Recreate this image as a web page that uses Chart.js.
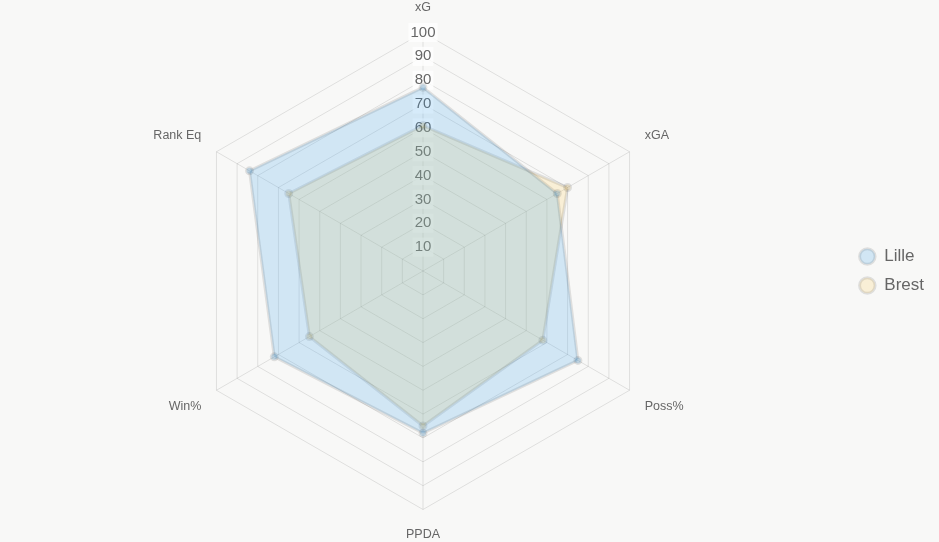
<!DOCTYPE html>
<html>
<head>
<meta charset="utf-8">
<script src="https://cdn.jsdelivr.net/npm/chart.js@4"></script>
<style>
  html, body { margin: 0; padding: 0; background: #f8f8f7; }
  #wrap { width: 939px; height: 542px; position: relative; }
</style>
</head>
<body>
<div id="wrap"><canvas id="radarChart"></canvas></div>
<script>
// radar comparison - Lille vs Brest
const labels = ['xG', 'xGA', 'Poss%', 'PPDA', 'Win%', 'Rank Eq'];
const lilleValues = [77, 65, 75, 68, 72, 84];
const brestValues = [61, 70, 58, 65, 55, 65];
const tickMax = 100;
const tickStep = 10;

Chart.defaults.font.family = '"Liberation Sans", Arial, Helvetica, sans-serif';
Chart.defaults.color = '#666';

const ctx = document.getElementById('radarChart').getContext('2d');
new Chart(ctx, {
  type: 'radar',
  data: {
    labels: labels,
    datasets: [
      {
        label: 'Lille',
        data: lilleValues,
        backgroundColor: 'rgba(54, 162, 235, 0.2)',
        borderColor: 'rgba(0, 0, 0, 0.1)',
        pointBorderColor: 'rgba(0, 0, 0, 0.1)',
        borderWidth: 3
      },
      {
        label: 'Brest',
        data: brestValues,
        backgroundColor: 'rgba(255, 206, 86, 0.2)',
        borderColor: 'rgba(0, 0, 0, 0.1)',
        pointBorderColor: 'rgba(0, 0, 0, 0.1)',
        borderWidth: 3
      }
    ]
  },
  options: {
    responsive: true,
    maintainAspectRatio: false,
    animation: false,
    layout: {
      padding: { right: 5 }
    },
    plugins: {
      legend: {
        position: 'right',
        labels: {
          usePointStyle: true,
          boxHeight: 11,
          font: { size: 17 },
          padding: 12
        }
      },
      tooltip: { enabled: false }
    },
    scales: {
      r: {
        min: 0,
        max: tickMax,
        ticks: {
          stepSize: tickStep,
          font: { size: 15 },
          backdropColor: 'rgba(255, 255, 255, 0.75)'
        },
        pointLabels: {
          font: { size: 12.5 },
          padding: 8
        }
      }
    }
  }
});
</script>
</body>
</html>
